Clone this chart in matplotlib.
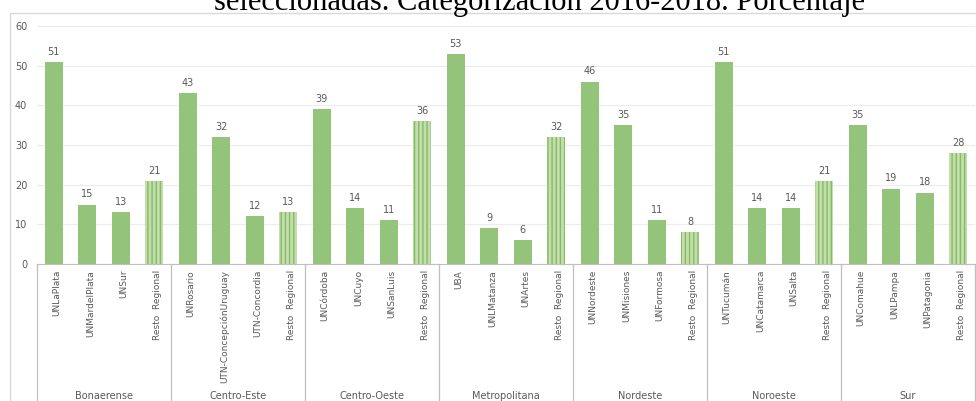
import numpy as np
import matplotlib
matplotlib.use('Agg')
import matplotlib.pyplot as plt
from matplotlib.patches import Rectangle

regions = ['Bonaerense', 'Centro-Este', 'Centro-Oeste', 'Metropolitana',
           'Nordeste', 'Noroeste', 'Sur']
universities = [
    ['UNLaPlata', 'UNMardelPlata', 'UNSur', 'Resto  Regional'],
    ['UNRosario', 'UTN-ConcepciónUruguay', 'UTN-Concordia', 'Resto  Regional'],
    ['UNCórdoba', 'UNCuyo', 'UNSanLuis', 'Resto  Regional'],
    ['UBA', 'UNLMatanza', 'UNArtes', 'Resto  Regional'],
    ['UNNordeste', 'UNMisiones', 'UNFormosa', 'Resto  Regional'],
    ['UNTucumán', 'UNCatamarca', 'UNSalta', 'Resto  Regional'],
    ['UNComahue', 'UNLPampa', 'UNPatagonia', 'Resto  Regional'],
]
values = [
    [51, 15, 13, 21],
    [43, 32, 12, 13],
    [39, 14, 11, 36],
    [53, 9, 6, 32],
    [46, 35, 11, 8],
    [51, 14, 14, 21],
    [35, 19, 18, 28],
]
title = 'seleccionadas. Categorización 2016-2018. Porcentaje'

green = '#93c47a'
grey = '#595959'
linec = '#bfbfbf'

plt.rcParams['hatch.linewidth'] = 1.0

fig = plt.figure(figsize=(9.76, 4.01), dpi=100)
ax = fig.add_axes([37/976, 1-264/401, 938/976, (264-26)/401])

labels = [u for grp in universities for u in grp]
vals = [v for grp in values for v in grp]

for i, (lab, v) in enumerate(zip(labels, vals)):
    if lab.startswith('Resto'):
        ax.bar(i, v, width=0.54, color='#c2deae', edgecolor='#86bb60',
               hatch='||||', linewidth=0)
    else:
        ax.bar(i, v, width=0.54, color=green, linewidth=0)
    ax.text(i, v + 1.3, str(v), ha='center', va='bottom', fontsize=7, color=grey)

ax.set_xlim(-0.5, len(vals) - 0.5)
ax.set_ylim(0, 60)
ax.set_yticks(range(0, 61, 10))
ax.tick_params(axis='y', length=0, labelsize=7, labelcolor=grey, pad=7)
ax.set_xticks([])
ax.grid(axis='y', color='#ececec', linewidth=0.8)
ax.set_axisbelow(True)
for s in ['top', 'right', 'left']:
    ax.spines[s].set_visible(False)
ax.spines['bottom'].set_color(linec)

trans = ax.get_xaxis_transform()
for i, lab in enumerate(labels):
    ax.text(i + 0.1, -0.025, lab, rotation=90, ha='center', va='top',
            fontsize=6.5, color=grey, transform=trans, clip_on=False)

for g, reg in enumerate(regions):
    ax.text(g * 4 + 1.5, -0.555, reg, ha='center', va='center', fontsize=7,
            color=grey, transform=trans, clip_on=False)
for g in range(len(regions) + 1):
    ax.plot([g * 4 - 0.5, g * 4 - 0.5], [0, -0.6], color=linec, linewidth=0.9,
            transform=trans, clip_on=False)

# outer chart border
fig.patches.append(Rectangle((10/976, -0.1), 1.2, 1 - 13/401 + 0.1,
                             transform=fig.transFigure, fill=False,
                             edgecolor='#d9d9d9', linewidth=1))

fig.text(539/976, 1 - 10/401, title, ha='center', va='baseline',
         fontsize=22, family='Liberation Serif', color='black')

fig.savefig('out.png', dpi=100)
